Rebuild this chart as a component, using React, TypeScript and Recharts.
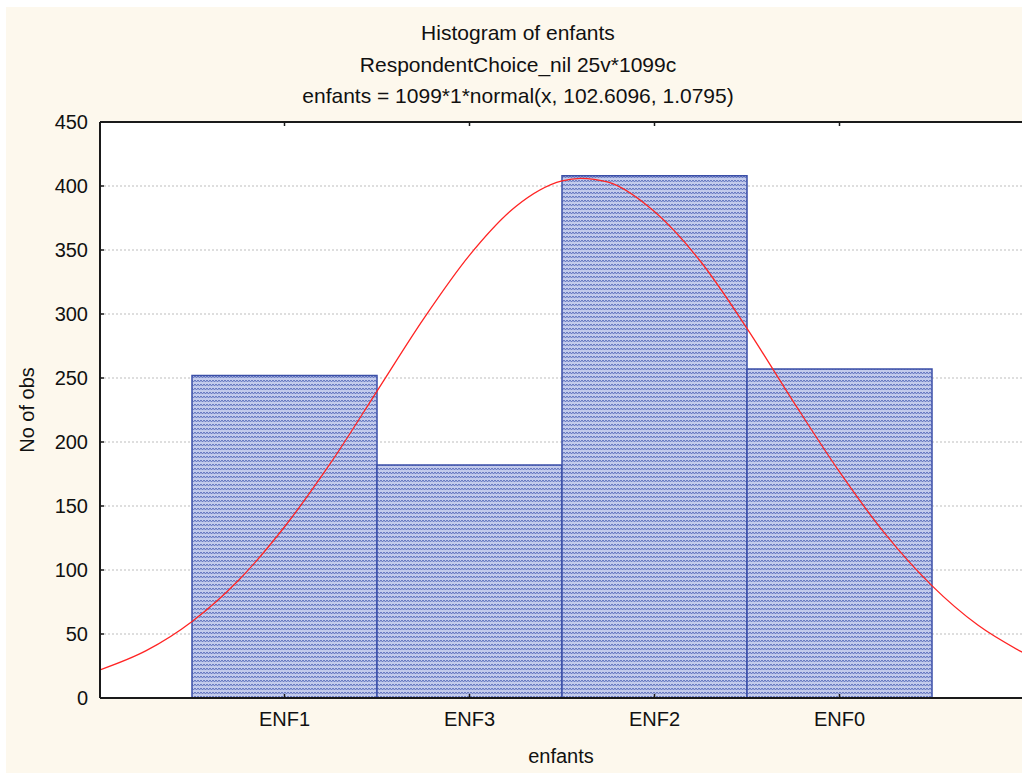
import React from 'react';
import {
  ComposedChart, Bar, Line, XAxis, YAxis, CartesianGrid,
} from 'recharts';

// histogram counts per category
const categories = ['ENF1', 'ENF3', 'ENF2', 'ENF0'];
const counts = [252, 182, 408, 257];

// fitted normal curve (x in category units 101..104)
const curveX = [100, 100.25, 100.5, 100.75, 101, 101.25, 101.5, 101.75, 102, 102.25, 102.5, 102.6, 102.75, 103, 103.25, 103.5, 103.75, 104, 104.25, 104.5, 104.75, 105];
const curveY = [22, 37, 60, 92, 134, 184, 240, 296, 346, 384, 404, 406, 403, 380, 341, 289, 232, 177, 128, 88, 57, 35];

const yTicks = [0, 50, 100, 150, 200, 250, 300, 350, 400, 450];

const titleLines = [
  'Histogram of enfants',
  'RespondentChoice_nil 25v*1099c',
  'enfants = 1099*1*normal(x, 102.6096, 1.0795)',
];

const barData = categories.map((cat, i) => ({ cat, n: counts[i] }));
const curveData = curveX.map((x, i) => ({ x, y: curveY[i] }));

const FONT = '"Liberation Sans", Arial, sans-serif';
const BG = '#fdf8ed';

export default function App() {
  return (
    <div
      style={{
        position: 'absolute', left: 6, top: 7, width: 1016, height: 766,
        background: BG, overflow: 'hidden', fontFamily: FONT, color: '#111',
      }}
    >
      {titleLines.map((t, i) => (
        <div
          key={t}
          style={{
            position: 'absolute', left: 0, width: 1024, top: 15 + i * 31.5,
            textAlign: 'center', fontSize: 21, lineHeight: '21px',
          }}
        >
          {t}
        </div>
      ))}
      <div
        style={{
          position: 'absolute', left: 455, width: 200, top: 739,
          textAlign: 'center', fontSize: 20, lineHeight: '20px',
        }}
      >
        enfants
      </div>
      <div
        style={{
          position: 'absolute', left: 21 - 100, top: 403 - 10, width: 200,
          textAlign: 'center', fontSize: 20, lineHeight: '20px',
          transform: 'rotate(-90deg)',
        }}
      >
        No of obs
      </div>

      <ComposedChart
        width={1030}
        height={766}
        data={barData}
        margin={{ top: 114, right: 12, bottom: 0, left: 0 }}
        barCategoryGap={0}
        barGap={0}
        style={{ position: 'absolute', left: 0, top: 0 }}
      >
        <defs>
          <pattern id="hatch" width="6" height="4" patternUnits="userSpaceOnUse">
            <rect width="6" height="4" fill="#c3cbec" />
            <path d="M0 1 L1.5 3 L3 1 L4.5 3 L6 1" stroke="#5e71bd" strokeWidth="1" fill="none" />
          </pattern>
        </defs>
        <CartesianGrid
          xAxisId="cat"
          vertical={false}
          fill="#ffffff"
          fillOpacity={1}
          stroke="#bdbdbd"
          strokeDasharray="2 2"
        />
        <XAxis
          xAxisId="cat"
          dataKey="cat"
          type="category"
          height={75}
          padding={{ left: 92, right: 92 }}
          axisLine={{ stroke: '#1a1a1a', strokeWidth: 2 }}
          tickLine={{ stroke: '#1a1a1a', strokeWidth: 1.5 }}
          tickSize={-4}
          tickMargin={18}
          tick={{ fill: '#111', fontSize: 20, fontFamily: FONT }}
          interval={0}
        />
        <XAxis
          xAxisId="top"
          dataKey="cat"
          type="category"
          orientation="top"
          height={1}
          padding={{ left: 92, right: 92 }}
          axisLine={{ stroke: '#1a1a1a', strokeWidth: 2 }}
          tickLine={{ stroke: '#1a1a1a', strokeWidth: 1.5 }}
          tickSize={-4}
          tick={() => <g />}
          interval={0}
        />
        <XAxis
          xAxisId="num"
          dataKey="x"
          type="number"
          domain={[100, 105]}
          allowDataOverflow
          hide
        />
        <YAxis
          width={94}
          domain={[0, 450]}
          ticks={yTicks}
          interval={0}
          axisLine={{ stroke: '#1a1a1a', strokeWidth: 2 }}
          tickLine={{ stroke: '#1a1a1a', strokeWidth: 1.5 }}
          tickSize={-4}
          tickMargin={16}
          tick={{ fill: '#111', fontSize: 20, fontFamily: FONT }}
        />
        <Bar
          xAxisId="cat"
          dataKey="n"
          fill="url(#hatch)"
          stroke="#3b4fa8"
          strokeWidth={1.5}
          isAnimationActive={false}
        />
        <Line
          xAxisId="num"
          data={curveData}
          dataKey="y"
          type="monotone"
          stroke="#ff2424"
          strokeWidth={1.3}
          dot={false}
          activeDot={false}
          isAnimationActive={false}
        />
      </ComposedChart>
    </div>
  );
}
